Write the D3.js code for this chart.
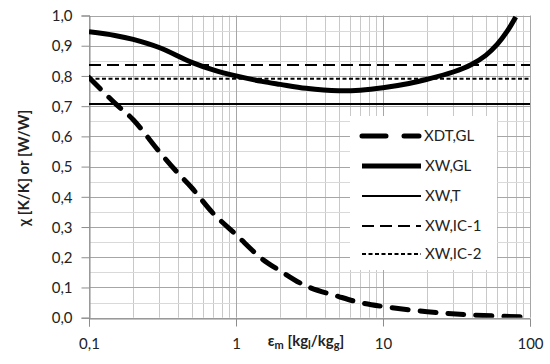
<!DOCTYPE html>
<html><head><meta charset="utf-8">
<script src="https://cdn.jsdelivr.net/npm/d3@7"></script>
<style>body{margin:0;background:#fff}svg{display:block}</style>
</head><body>
<svg id="c" width="550" height="364"></svg>
<script>
// data
const xdtX = [0.1,0.15,0.2,0.3,0.4,0.5,0.7,1,1.5,2,3,5,7,10,20,40,100];
const xdtY = [0.795,0.71,0.655,0.55,0.48,0.43,0.345,0.275,0.195,0.155,0.105,0.07,0.05,0.037,0.02,0.009,0.002];
const xwglX = [0.1,0.15,0.2,0.3,0.5,0.7,1,1.5,2,3,5,7,10,15,20,30,40,50,60,70,80];
const xwglY = [0.946,0.934,0.921,0.894,0.845,0.82,0.80,0.782,0.772,0.759,0.751,0.753,0.761,0.775,0.789,0.813,0.838,0.868,0.905,0.948,0.995];
const xwT = 0.707, xwIC1 = 0.836, xwIC2 = 0.791;
const xTicks = [0.1,1,10,100];
const yTicks = [0,0.1,0.2,0.3,0.4,0.5,0.6,0.7,0.8,0.9,1.0];
const legendLabels = ["XDT,GL","XW,GL","XW,T","XW,IC-1","XW,IC-2"];

const svg = d3.select("#c");
const L=89,R=530,T=15.5,B=317.7;
const x = d3.scaleLog().domain([0.1,100]).range([L,R]);
const y = d3.scaleLinear().domain([0,1]).range([B,T]);
const font = "Lato, 'Open Sans', sans-serif";

// grid
const g = svg.append("g");
const minorX = [];
[0.1,1,10].forEach(d=>{for(let k=2;k<=9;k++) minorX.push(d*k);});
g.selectAll(".vx").data(minorX).enter().append("line")
 .attr("x1",d=>Math.round(x(d))+0.5).attr("x2",d=>Math.round(x(d))+0.5).attr("y1",T).attr("y2",B)
 .attr("stroke","#c8c8c8").attr("stroke-width",1);
const minorY = d3.range(1,20,2).map(i=>i*0.05);
g.selectAll(".my").data(minorY).enter().append("line")
 .attr("x1",L).attr("x2",R).attr("y1",d=>Math.round(y(d))+0.5).attr("y2",d=>Math.round(y(d))+0.5)
 .attr("stroke","#d9d9d9").attr("stroke-width",1);
g.selectAll(".Mx").data(xTicks).enter().append("line")
 .attr("x1",d=>Math.round(x(d))+0.5).attr("x2",d=>Math.round(x(d))+0.5).attr("y1",T).attr("y2",B)
 .attr("stroke","#a6a6a6").attr("stroke-width",1);
g.selectAll(".My").data(yTicks).enter().append("line")
 .attr("x1",L).attr("x2",R).attr("y1",d=>Math.round(y(d))+0.5).attr("y2",d=>Math.round(y(d))+0.5)
 .attr("stroke","#a6a6a6").attr("stroke-width",1);

// axes
const fmt = v => d3.format(".1f")(v).replace(".",",");
const yAxis = d3.axisLeft(y).tickValues(yTicks).tickFormat(fmt).tickSize(8).tickPadding(9);
const ya = svg.append("g").attr("transform",`translate(${L+0.5},0)`).call(yAxis);
const xAxis = d3.axisBottom(x).tickValues(xTicks).tickFormat(d=>fmt(d).replace(/,0$/,"")).tickSize(8).tickPadding(12);
const xa = svg.append("g").attr("transform",`translate(0,${Math.round(B)+0.5})`).call(xAxis);
[ya,xa].forEach(a=>{
  a.select(".domain").attr("stroke","#8c8c8c");
  a.selectAll(".tick line").attr("stroke","#8c8c8c");
  a.selectAll("text").attr("font-family",font).attr("font-size",15).attr("fill","#222");
});
ya.selectAll(".tick text").attr("dy","0.35em");

// clip
svg.append("clipPath").attr("id","clip").append("rect").attr("x",L).attr("y",T).attr("width",R-L).attr("height",B-T);
const plot = svg.append("g").attr("clip-path","url(#clip)");
const line = d3.line().x(d=>x(d[0])).y(d=>y(d[1])).curve(d3.curveCatmullRom.alpha(0.5));

const styles = [
 {w:5, dash:"16,12", cap:"round"},
 {w:5, dash:null, cap:"butt"},
 {w:2, dash:null, cap:"butt"},
 {w:2, dash:"12,6", cap:"butt"},
 {w:2, dash:"4,2.5", cap:"butt"}
];
const hl = v => [[0.1,v],[100,v]];
const series = [d3.zip(xdtX,xdtY), d3.zip(xwglX,xwglY), hl(xwT), hl(xwIC1), hl(xwIC2)];
[2,3,4,1,0].forEach(i=>{
  plot.append("path").datum(series[i]).attr("d",line).attr("fill","none")
   .attr("stroke","#000").attr("stroke-width",styles[i].w)
   .attr("stroke-dasharray",styles[i].dash).attr("stroke-linecap",styles[i].cap);
});

// legend
const lg = svg.append("g");
lg.append("rect").attr("x",350).attr("y",116).attr("width",147).attr("height",154).attr("fill","#fff");
const ly = [136,166,196,226,254];
legendLabels.forEach((t,i)=>{
  lg.append("line").attr("x1",362).attr("x2",i===0?419:421).attr("y1",ly[i]).attr("y2",ly[i])
   .attr("stroke","#000").attr("stroke-width",styles[i].w).attr("stroke-dasharray",i===0?"24,18":styles[i].dash)
   .attr("stroke-linecap",styles[i].cap);
  lg.append("text").attr("x",i===0?424:425).attr("y",ly[i]).attr("dy","0.35em").text(t)
   .attr("font-family",font).attr("font-size",15).attr("fill","#222");
});

// titles
const yt = svg.append("text").attr("transform","translate(29,168) rotate(-90)").attr("text-anchor","middle")
 .attr("font-family",font).attr("font-size",15).attr("font-weight","bold").attr("fill","#222");
yt.text("χ [K/K] or [W/W]");
const xt = svg.append("text").attr("x",306).attr("y",346).attr("text-anchor","middle")
 .attr("font-family",font).attr("font-size",15).attr("font-weight","bold").attr("fill","#222");
xt.append("tspan").text("ε");
xt.append("tspan").attr("font-size",11).attr("dy",3).text("m");
xt.append("tspan").attr("dy",-3).text(" [kg");
xt.append("tspan").attr("font-size",11).attr("dy",3).text("l");
xt.append("tspan").attr("dy",-3).text("/kg");
xt.append("tspan").attr("font-size",11).attr("dy",3).text("g");
xt.append("tspan").attr("dy",-3).text("]");
</script>
</body></html>
